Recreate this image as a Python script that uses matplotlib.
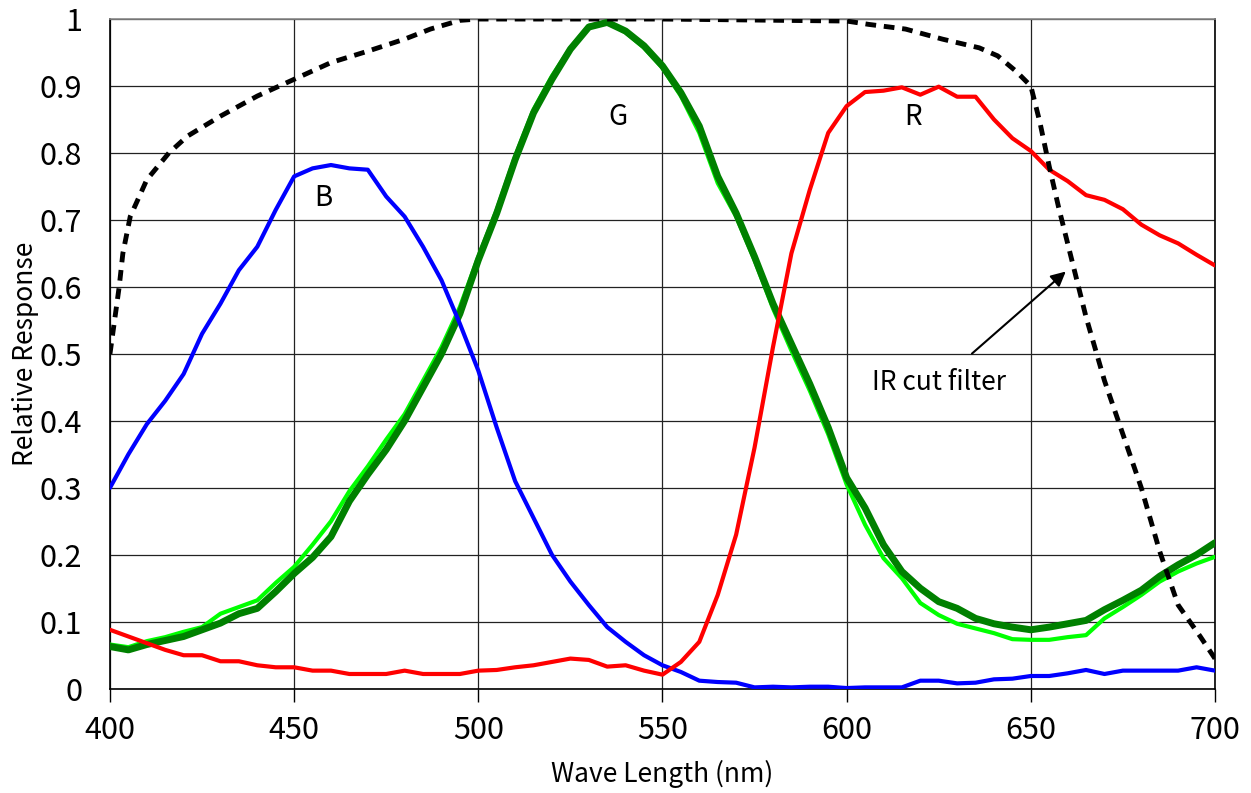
import matplotlib
matplotlib.use("Agg")
import matplotlib.pyplot as plt
from matplotlib.ticker import FuncFormatter, MultipleLocator

plt.rcParams['font.family'] = ['Noto Sans CJK JP', 'DejaVu Sans']

# Wellenlaengen-Raster (nm) fuer B, G, R
wl = list(range(400, 705, 5))

blau = [0.300, 0.350, 0.395, 0.430, 0.470, 0.530, 0.575, 0.625, 0.660, 0.715,
        0.765, 0.777, 0.782, 0.777, 0.775, 0.735, 0.705, 0.660, 0.610, 0.545,
        0.475, 0.390, 0.310, 0.255, 0.200, 0.160, 0.125, 0.092, 0.070, 0.050,
        0.035, 0.025, 0.012, 0.010, 0.009, 0.002, 0.003, 0.002, 0.003, 0.003,
        0.001, 0.002, 0.002, 0.002, 0.012, 0.012, 0.008, 0.009, 0.014, 0.015,
        0.019, 0.019, 0.023, 0.028, 0.022, 0.027, 0.027, 0.027, 0.027, 0.032,
        0.027]

gruen_dunkel = [0.063, 0.058, 0.066, 0.072, 0.078, 0.088, 0.098, 0.112, 0.120, 0.145,
                0.172, 0.196, 0.227, 0.280, 0.320, 0.357, 0.400, 0.450, 0.500, 0.560,
                0.640, 0.710, 0.790, 0.860, 0.910, 0.955, 0.988, 0.995, 0.982, 0.960,
                0.930, 0.890, 0.840, 0.765, 0.710, 0.645, 0.575, 0.515, 0.455, 0.390,
                0.315, 0.270, 0.215, 0.175, 0.150, 0.130, 0.120, 0.105, 0.097, 0.092,
                0.088, 0.092, 0.097, 0.102, 0.118, 0.132, 0.147, 0.168, 0.185, 0.200,
                0.218]

gruen_hell = [0.066, 0.062, 0.071, 0.077, 0.085, 0.092, 0.112, 0.122, 0.132, 0.158,
              0.182, 0.215, 0.250, 0.295, 0.332, 0.372, 0.410, 0.460, 0.510, 0.570,
              0.645, 0.715, 0.795, 0.865, 0.915, 0.957, 0.990, 0.995, 0.980, 0.957,
              0.927, 0.885, 0.830, 0.755, 0.705, 0.640, 0.568, 0.505, 0.445, 0.380,
              0.305, 0.245, 0.195, 0.165, 0.128, 0.110, 0.097, 0.090, 0.083, 0.074,
              0.073, 0.073, 0.077, 0.080, 0.105, 0.122, 0.140, 0.160, 0.175, 0.187,
              0.197]

rot = [0.088, 0.078, 0.068, 0.058, 0.050, 0.050, 0.041, 0.041, 0.035, 0.032,
       0.032, 0.027, 0.027, 0.022, 0.022, 0.022, 0.027, 0.022, 0.022, 0.022,
       0.027, 0.028, 0.032, 0.035, 0.040, 0.045, 0.043, 0.033, 0.035, 0.027,
       0.021, 0.040, 0.070, 0.140, 0.230, 0.360, 0.510, 0.650, 0.745, 0.830,
       0.870, 0.891, 0.893, 0.898, 0.887, 0.899, 0.884, 0.884, 0.850, 0.822,
       0.803, 0.775, 0.758, 0.737, 0.730, 0.716, 0.693, 0.677, 0.665, 0.648,
       0.632]

# IR-Sperrfilter (eigene Stuetzstellen)
ir_wl = [400, 401.5, 402.5, 403.5, 405.5, 410, 416, 421, 430, 440, 450, 460, 470,
         480, 487, 495, 500, 550, 600, 606, 616, 626, 636, 641, 646, 650, 652.5,
         655, 657.5, 660, 665, 670, 675, 680, 685, 690, 696, 700]
ir_filter = [0.50, 0.56, 0.60, 0.65, 0.705, 0.76, 0.80, 0.825, 0.855, 0.885, 0.91,
             0.935, 0.952, 0.97, 0.985, 0.998, 1.0, 1.0, 0.997, 0.992, 0.985, 0.97,
             0.957, 0.945, 0.922, 0.90, 0.845, 0.78, 0.72, 0.665, 0.555, 0.46, 0.38,
             0.30, 0.205, 0.125, 0.078, 0.045]

fig = plt.figure(figsize=(12.51, 7.93), dpi=100)
ax = fig.add_axes([0.0879, 0.1315, 0.8833, 0.8445])

rund = dict(solid_joinstyle='round', solid_capstyle='round')
ax.plot(wl, gruen_hell, color='#00ff00', lw=3.0, zorder=3, **rund)
ax.plot(wl, gruen_dunkel, color='#008000', lw=5.0, zorder=4, **rund)
ax.plot(wl, blau, color='#0000ff', lw=3.0, zorder=5, **rund)
ax.plot(wl, rot, color='#ff0000', lw=3.0, zorder=6, **rund)
ax.plot(ir_wl, ir_filter, color='black', lw=3.5, ls=(0, (2.2, 1.6)), zorder=7)

ax.set_xlim(400, 700)
ax.set_ylim(0, 1)
ax.xaxis.set_major_locator(MultipleLocator(50))
ax.yaxis.set_major_locator(MultipleLocator(0.1))
ax.yaxis.set_major_formatter(FuncFormatter(lambda v, p: f"{v:.1f}".rstrip('0').rstrip('.') if v else "0"))
ax.grid(True, color='#222222', lw=0.9)
ax.set_axisbelow(True)
ax.tick_params(axis='x', length=9, width=1, pad=10, labelsize=22, direction='out')
ax.tick_params(axis='y', length=0, pad=20, labelsize=22)
for s in ax.spines.values():
    s.set_linewidth(1.2)
ax.spines['top'].set_color('#888888')

ax.set_xlabel('Wave Length (nm)', fontsize=19)
ax.set_ylabel('Relative Response', fontsize=19)
ax.xaxis.set_label_coords(0.5, -0.106)
ax.yaxis.set_label_coords(-0.064, 0.5)

ax.text(458, 0.733, 'B', fontsize=20, ha='center', va='center')
ax.text(538, 0.853, 'G', fontsize=20, ha='center', va='center')
ax.text(618, 0.853, 'R', fontsize=20, ha='center', va='center')
ax.annotate('IR cut filter', xy=(659.5, 0.623), xytext=(625, 0.457),
            fontsize=19, ha='center', va='center',
            arrowprops=dict(arrowstyle='-|>', color='black', lw=1.5,
                            mutation_scale=22, shrinkA=14, shrinkB=0))

fig.savefig('out.png', dpi=100)
